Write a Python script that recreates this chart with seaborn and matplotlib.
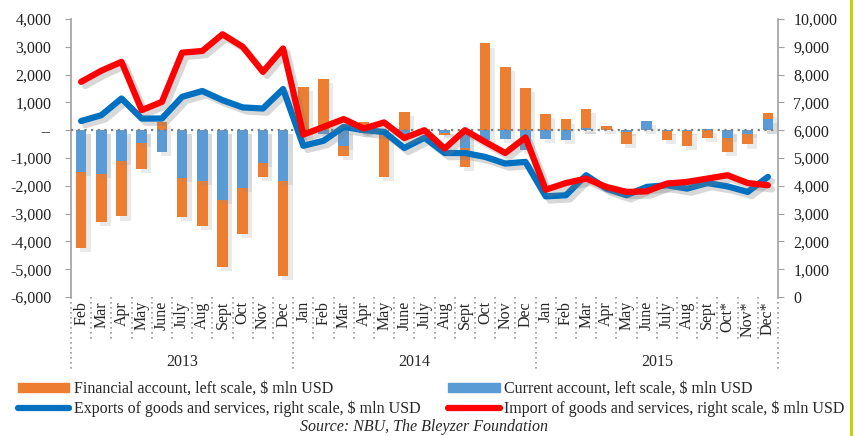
import numpy as np
import matplotlib
matplotlib.use("Agg")
import matplotlib.pyplot as plt
import matplotlib.patheffects as pe
import matplotlib.transforms as mtransforms
from matplotlib.patches import Patch, Rectangle
from matplotlib.lines import Line2D
import seaborn as sns

# months Feb 2013 .. Dec 2015
months = ["Feb", "Mar", "Apr", "May", "June", "July", "Aug", "Sept", "Oct", "Nov", "Dec",
          "Jan", "Feb", "Mar", "Apr", "May", "June", "July", "Aug", "Sept", "Oct", "Nov", "Dec",
          "Jan", "Feb", "Mar", "Apr", "May", "June", "July", "Aug", "Sept", "Oct*", "Nov*", "Dec*"]
years = ["2013", "2014", "2015"]
year_len = [11, 12, 12]

# left scale, $ mln USD
current_account = [-1500, -1585, -1090, -445, -780, -1730, -1810, -2500, -2080, -1165, -1810,
                   -200, -150, -576, -100, -150, -120, -40, -100, -650, -336, -300, -720,
                   -300, -360, 84, 0, -60, 324, -40, -20, 48, -276, -120, 396]
financial_account = [-2725, -1715, -2010, -935, 300, -1390, -1620, -2420, -1640, -515, -3435,
                     1550, 1835, -360, 300, -1540, 660, 60, -70, -670, 3120, 2290, 1510,
                     590, 385, 672, 144, -444, 0, -296, -544, -276, -504, -390, 240]
# right scale, $ mln USD
exports = [6330, 6540, 7140, 6420, 6420, 7200, 7410, 7080, 6820, 6780, 7480,
           5440, 5620, 6120, 6000, 5940, 5360, 5730, 5180, 5180, 5040, 4800, 4860,
           3620, 3660, 4380, 3900, 3660, 3960, 4020, 3900, 4100, 3980, 3780, 4320]
imports = [7740, 8140, 8460, 6720, 7020, 8790, 8850, 9450, 9000, 8100, 8940,
           5840, 6120, 6400, 6060, 6280, 5720, 6000, 5340, 6000, 5580, 5180, 5740,
           3860, 4100, 4260, 3960, 3780, 3800, 4080, 4140, 4260, 4380, 4100, 4020]

c_fin = "#ED7D31"
c_cur = "#5B9BD5"
c_exp = "#0070C0"
c_imp = "#FF0000"
grey = "#A0A0A0"

sns.set_style("white")
plt.rcParams["font.family"] = ["Liberation Serif", "DejaVu Serif"]
fs = 11.5

idx = np.arange(len(months))
ca = np.array(current_account)
fa = np.array(financial_account)
# stacked look: financial drawn from zero to the total when signs agree
fin_h = np.where(np.sign(ca) == np.sign(fa), ca + fa, fa)

fig = plt.figure(figsize=(8.55, 4.36), dpi=100)
ax = fig.add_axes([71 / 855, 1 - 297 / 436, (778 - 71) / 855, (297 - 19) / 436])

bar_shadow = [pe.SimplePatchShadow(offset=(3, -3), shadow_rgbFace="#909090", alpha=0.18), pe.Normal()]
sns.barplot(x=idx, y=fin_h, color=c_fin, saturation=1, width=0.53, ax=ax)
sns.barplot(x=idx, y=ca, color=c_cur, saturation=1, width=0.53, ax=ax)
for p in ax.patches:
    p.set_linewidth(0)
    p.set_path_effects(bar_shadow)

ax.axhline(0, color="#808080", ls=(0, (1, 2)), lw=1.6, zorder=5)
ax.set_xlim(-0.5, len(months) - 0.5)
ax.set_ylim(-6000, 4000)
ax.set_yticks(range(-6000, 4001, 1000))
ax.set_yticklabels(["--" if v == 0 else f"{v:,}" for v in range(-6000, 4001, 1000)], fontsize=fs)
ax.set_xticks(idx)
ax.set_xticklabels(months, rotation=90, fontsize=fs)
ax.tick_params(axis="x", length=0, pad=3)
ax.tick_params(axis="y", direction="out", length=4, color=grey, pad=10, labelcolor="#222222")
ax.set_xlabel("")
ax.set_ylabel("")
for s in ["top", "right", "bottom"]:
    ax.spines[s].set_visible(False)
ax.spines["left"].set_color(grey)
ax.spines["left"].set_linewidth(1.2)

ax2 = ax.twinx()
line_shadow = [pe.SimpleLineShadow(offset=(3, -3), shadow_color="#808080", alpha=0.3), pe.Normal()]
sns.lineplot(x=idx, y=exports, color=c_exp, lw=4.5, ax=ax2, solid_capstyle="round", path_effects=line_shadow)
sns.lineplot(x=idx, y=imports, color=c_imp, lw=4.5, ax=ax2, solid_capstyle="round", path_effects=line_shadow)
ax2.set_xlim(-0.5, len(months) - 0.5)
ax2.set_ylim(0, 10000)
ax2.set_yticks(range(0, 10001, 1000))
ax2.set_yticklabels([f"{v:,}" for v in range(0, 10001, 1000)], fontsize=fs)
ax2.tick_params(axis="y", direction="out", length=4, color=grey, pad=7, labelcolor="#222222")
ax2.set_ylabel("")
for s in ["top", "left", "bottom"]:
    ax2.spines[s].set_visible(False)
ax2.spines["right"].set_color(grey)
ax2.spines["right"].set_linewidth(1.2)

# category separators and year labels
trans = mtransforms.blended_transform_factory(ax.transData, ax.transAxes)
bounds = np.cumsum([0] + year_len)
for b in range(len(months) + 1):
    low = -0.27 if b in bounds else -0.162
    ax.plot([b - 0.5, b - 0.5], [0, low], transform=trans, color="#999999",
            ls=(0, (1, 2)), lw=1.2, clip_on=False)
for y, start, n in zip(years, bounds[:-1], year_len):
    ax.text(start + (n - 1) / 2, -0.235, y, transform=trans, ha="center", va="center", fontsize=fs)

handles = [Patch(color=c_fin), Line2D([], [], color=c_exp, lw=4.5, solid_capstyle="round"),
           Patch(color=c_cur), Line2D([], [], color=c_imp, lw=4.5, solid_capstyle="round")]
labels = ["Financial account, left scale, $ mln USD",
          "Exports of goods and services, right scale, $ mln USD",
          "Current account, left scale, $ mln USD",
          "Import of goods and services, right scale, $ mln USD"]
fig.legend(handles, labels, ncol=2, loc="upper left", bbox_to_anchor=(18 / 855, 1 - 381 / 436),
           frameon=False, fontsize=fs, handlelength=3.2, handleheight=0.45, handletextpad=0.3,
           columnspacing=1.75, labelspacing=0.2, borderpad=0, borderaxespad=0)
fig.text(424 / 855, 1 - 427 / 436, "Source: NBU, The Bleyzer Foundation", style="italic",
         ha="center", va="center", fontsize=fs)

fig.add_artist(Rectangle((850 / 855, 0), 3 / 855, 1, transform=fig.transFigure,
                         color="#C8D400", lw=0))

fig.savefig("out.png", dpi=100)
